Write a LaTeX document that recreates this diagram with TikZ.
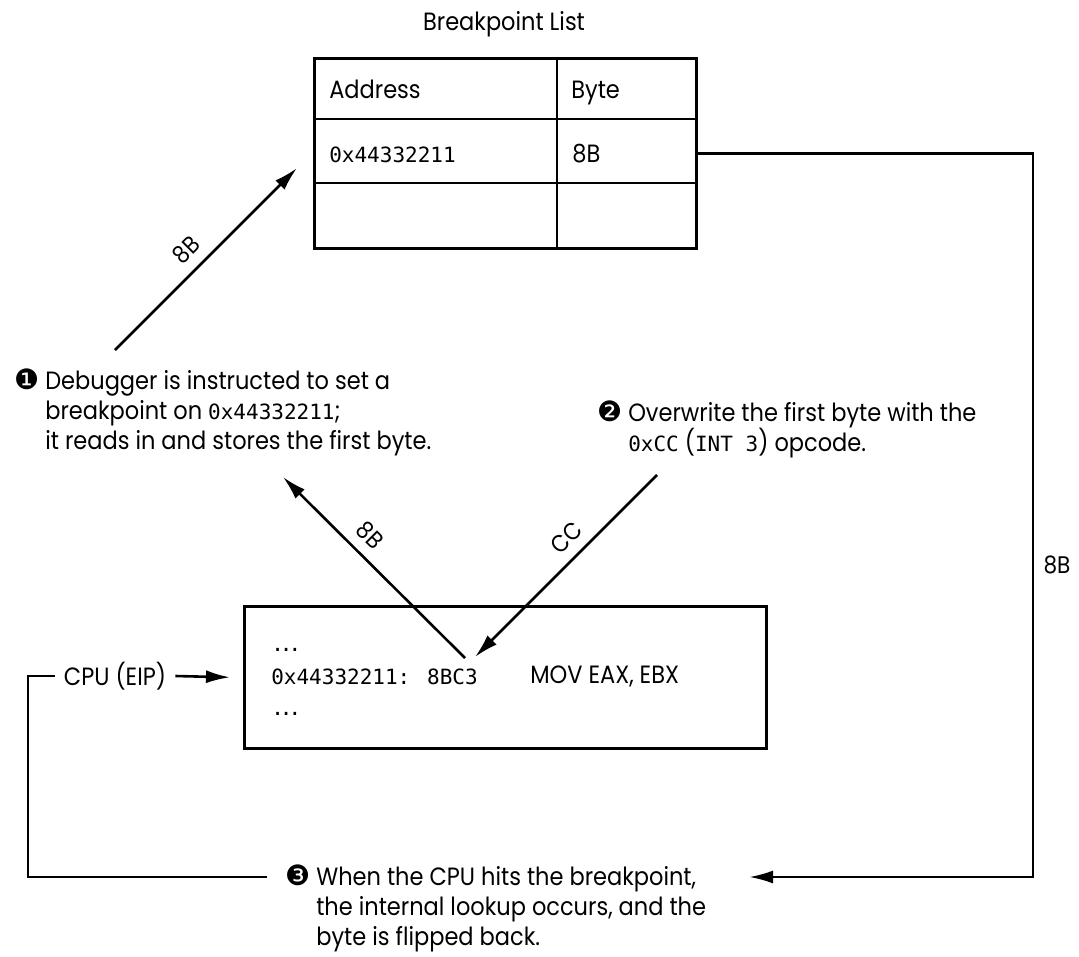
\documentclass[tikz,border=0pt]{standalone}
\usepackage{fontspec}
\setmainfont{Poppins}[FakeStretch=0.90]
\newfontfamily\monof{DejaVu Sans Mono}
\newfontfamily\dingf{DejaVu Sans}
\usetikzlibrary{arrows.meta}
\newcommand{\mono}[1]{{\monof\fontsize{21}{30}\selectfont #1}}
\newcommand{\mdots}{{\monof\fontsize{21}{30}\selectfont .\kern-4pt.\kern-4pt.}}
\newcommand{\bul}[1]{\llap{{\dingf\fontsize{28}{30}\selectfont #1}\hspace{6pt}}}
\tikzset{
  txt/.style={inner sep=0pt, align=left, font=\fontsize{25}{30}\selectfont},
  lbl/.style={inner sep=2pt, font=\fontsize{24}{28}\selectfont},
  arr/.style={-{Latex[length=24pt,width=13pt]}},
  box/.style={draw, inner sep=0pt}
}
\begin{document}
\begin{tikzpicture}[x=1pt,y=-1pt,line width=2.6pt]
\useasboundingbox (0,0) rectangle (1079,956);

% Breakpoint list
\node[txt, anchor=base] (title) at (504,30) {Breakpoint List};
\node[box, anchor=north west, minimum width=382pt, minimum height=190pt] (tbl) at (313,57) {};
\draw (313,119) -- (695,119);
\draw (313,183) -- (695,183);
\draw (557,57) -- (557,247);
\node[txt, anchor=base west] (haddr) at (328,98) {Address};
\node[txt, anchor=base west] (hbyte) at (570,98) {Byte};
\node[txt, anchor=base west] (vaddr) at (328,162) {\mono{0x44332211}};
\node[txt, anchor=base west] (vbyte) at (571,162) {8B};

% step texts (base anchor = baseline of the last line)
\node[txt, anchor=base west] (t1) at (44,449)
  {\bul{❶}Debugger is instructed to set a\\breakpoint on \mono{0x44332211};\\it reads in and stores the first byte.};
\node[txt, anchor=base west] (t2) at (627,451)
  {\bul{❷}Overwrite the first byte with the\\\mono{0xCC} (\mono{INT 3}) opcode.};
\node[txt, anchor=base west] (t3) at (315,945)
  {\bul{❸}When the CPU hits the breakpoint,\\the internal lookup occurs, and the\\byte is flipped back.};

% memory box
\node[box, anchor=north west, minimum width=522pt, minimum height=142pt] (mem) at (243,605) {};
\node[txt, anchor=base west] (dots1) at (270,651) {\mdots};
\node[txt, anchor=base west] (code) at (270,684) {\mono{0x44332211: 8BC3}};
\node[txt, anchor=base west] (mov) at (529,683) {MOV EAX, EBX};
\node[txt, anchor=base west] (dots2) at (270,715) {\mdots};

% CPU label
\node[txt, inner xsep=8pt] (cpu) at (115,676) {CPU (EIP)};

% coordinates
\coordinate (a1s) at (115,350);
\coordinate (a1e) at (297,168);
\coordinate (a2s) at (465,658);
\coordinate (a2e) at (283,477);
\coordinate (a3s) at (657,475);
\coordinate (a3e) at (475,657);
\coordinate (t3l) at (267,877);
\coordinate (t3r) at (749,877);
\coordinate (rc) at (1033,877);
\coordinate (lc) at (28,877);

% arrows
\draw[arr] (a1s) -- node[lbl, pos=0.47, rotate=45, above=8pt] {8B} (a1e);
\draw[arr] (a2s) -- node[lbl, pos=0.60, rotate=-45, above=8pt] {8B} (a2e);
\draw[arr] (a3s) -- node[lbl, pos=0.42, rotate=45, above=8pt] {CC} (a3e);
\draw[arr] (tbl.east) -| (rc) -- (t3r);
\node[lbl] (r8b) at (1057,565) {8B};
\draw (t3l) -- (lc) |- (cpu.west);
\draw[arr] (cpu.east) -- ([xshift=-13pt]mem.west);
\end{tikzpicture}
\end{document}
